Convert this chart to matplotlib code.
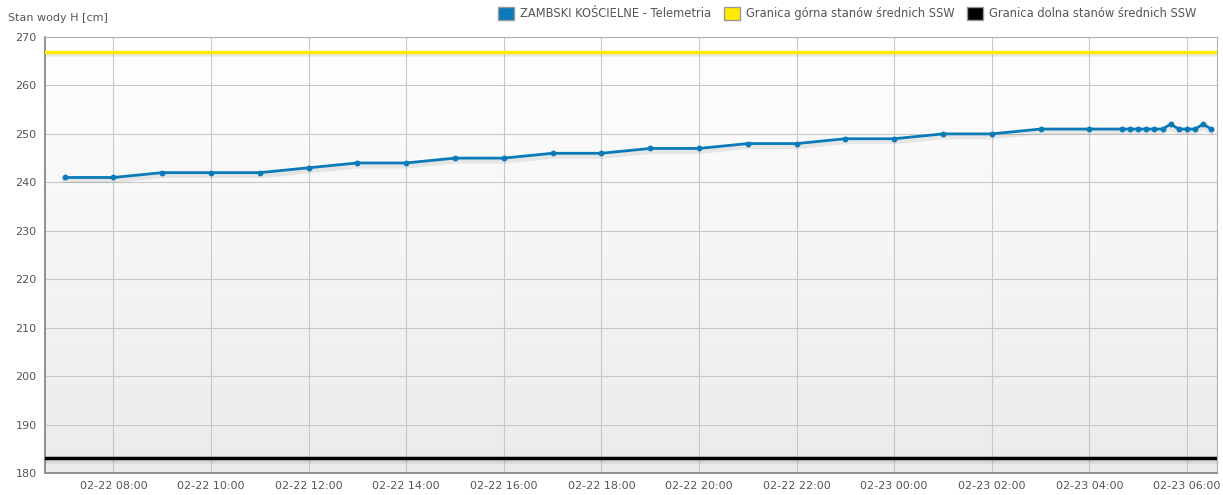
import matplotlib
matplotlib.use("Agg")
import matplotlib.pyplot as plt
import matplotlib.dates as mdates
import matplotlib.patheffects as pe
from matplotlib.patches import Patch
import numpy as np
import pandas as pd

# data
times = [
    "2023-02-22 07:00", "2023-02-22 08:00", "2023-02-22 09:00", "2023-02-22 10:00",
    "2023-02-22 11:00", "2023-02-22 12:00", "2023-02-22 13:00", "2023-02-22 14:00",
    "2023-02-22 15:00", "2023-02-22 16:00", "2023-02-22 17:00", "2023-02-22 18:00",
    "2023-02-22 19:00", "2023-02-22 20:00", "2023-02-22 21:00", "2023-02-22 22:00",
    "2023-02-22 23:00", "2023-02-23 00:00", "2023-02-23 01:00", "2023-02-23 02:00",
    "2023-02-23 03:00", "2023-02-23 04:00", "2023-02-23 04:40", "2023-02-23 04:50",
    "2023-02-23 05:00", "2023-02-23 05:10", "2023-02-23 05:20", "2023-02-23 05:30",
    "2023-02-23 05:40", "2023-02-23 05:50", "2023-02-23 06:00", "2023-02-23 06:10",
    "2023-02-23 06:20", "2023-02-23 06:30",
]
levels = [
    241, 241, 242, 242, 242, 243, 244, 244, 245, 245, 246, 246, 247, 247, 248, 248,
    249, 249, 250, 250, 251, 251, 251, 251, 251, 251, 251, 251, 252, 251, 251, 251,
    252, 251,
]
upper_limit = 267
lower_limit = 183
series_names = ["ZAMBSKI KOŚCIELNE - Telemetria",
                "Granica górna stanów średnich SSW",
                "Granica dolna stanów średnich SSW"]
series_colors = ["#0a7ab8", "#ffec00", "#000000"]

t = pd.to_datetime(times)
x_start = pd.Timestamp("2023-02-22 06:36")
x_end = pd.Timestamp("2023-02-23 06:37")

fig = plt.figure(figsize=(12.23, 4.95), dpi=100)
ax = fig.add_axes([45 / 1223, 1 - 473 / 495, (1217 - 45) / 1223, (473 - 37) / 495])

# gradient background
grad = np.linspace(1, 0, 256).reshape(-1, 1)
ax.imshow(grad, extent=[0, 1, 0, 1], transform=ax.transAxes, aspect="auto",
          cmap=matplotlib.colors.LinearSegmentedColormap.from_list("bg", ["#ebebeb", "#ffffff"]),
          zorder=0)

shadow = [pe.SimpleLineShadow(offset=(0, -2), shadow_color="#000000", alpha=0.08, linewidth=4),
          pe.Normal()]

ax.axhline(upper_limit, color=series_colors[1], lw=2.5, zorder=3, path_effects=shadow)
ax.axhline(lower_limit, color=series_colors[2], lw=2.5, zorder=3, path_effects=shadow)
ax.plot(t, levels, color=series_colors[0], lw=2, zorder=4, path_effects=shadow)
ax.plot(t, levels, color=series_colors[0], lw=0, marker="o", ms=3.2, zorder=5)

ax.set_xlim(x_start, x_end)
ax.set_ylim(180, 270)
ax.set_yticks(np.arange(180, 271, 10))
ax.xaxis.set_major_locator(mdates.HourLocator(byhour=range(0, 24, 2)))
ax.xaxis.set_major_formatter(mdates.DateFormatter("%m-%d %H:%M"))

ax.grid(True, color="#c8c8c8", lw=0.8, zorder=1)
ax.set_axisbelow(True)
ax.tick_params(length=0, labelsize=8, colors="#555555", pad=6)
for s in ["top", "right"]:
    ax.spines[s].set_color("#b0b0b0")
for s in ["left", "bottom"]:
    ax.spines[s].set_color("#888888")
    ax.spines[s].set_linewidth(1.3)

fig.text(8 / 1223, 1 - 18 / 495, "Stan wody H [cm]", fontsize=8, color="#555555",
         va="center", ha="left")

handles = [Patch(facecolor=c, edgecolor="#999999") for c in series_colors]
fig.legend(handles, series_names, loc="upper right", bbox_to_anchor=(1203 / 1223, 1.0),
           ncol=3, frameon=False, fontsize=8.3, labelcolor="#555555",
           handlelength=1.4, handleheight=1.4, handletextpad=0.5, columnspacing=1.1,
           borderaxespad=0.2)

fig.savefig("out.png", dpi=100)
